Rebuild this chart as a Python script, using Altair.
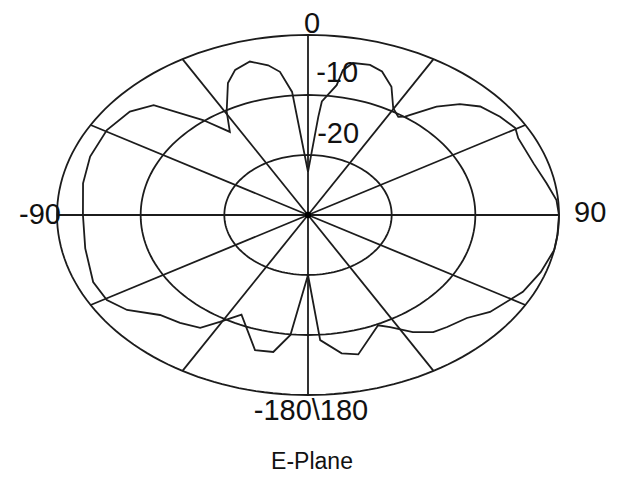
import altair as alt
import numpy as np
import pandas as pd

# ---- data (angle in degrees, gain in dB) ----
angles = [-180, -174, -169.7, -164.3, -154.4, -149.4, -145.6, -139.6, -133.3,
          -126.2, -120.5, -113.5, -101.8, -90, -78.9, -69.5, -59.5, -51,
          -45.2, -38.4, -34, -29.4, -23.5, -19.8, -15.2, -10.8, -8, -5.3,
          0, 4.3, 5, 9, 9.8, 12, 16.5, 20.3, 25, 29.8, 33.4, 35.3, 36.1,
          40.4, 44.5, 48.7, 54.5, 59.7, 63, 72.3, 79.5, 85.2, 90, 96.4,
          101.2, 108.9, 116.5, 126.6, 132.1, 138.3, 142.5, 147.3, 152.3,
          155.5, 165.5, 170.1, 176, 180]
gain_db = [-20.0, -9.9, -6.8, -6.6, -11.6, -9.3, -7.2, -6.4, -5.7,
           -3.2, -2.1, -2.0, -2.8, -3.1, -2.6, -2.2, -2.1, -2.6,
           -4.0, -9.8, -13.3, -10.2, -6.0, -4.3, -3.5, -4.6, -5.9, -9.4,
           -22.8, -13.6, -11.0, -8.1, -5.5, -4.1, -3.9, -4.5, -6.4, -9.5, -10.4, -9.9, -9.4,
           -6.3, -4.1, -2.6, -1.8, -1.3, -1.8, -1.7, -1.0, -0.2, 0.0, 0.0,
           0.0, -0.6, -1.3, -2.9, -4.4, -5.0, -5.4, -6.8, -8.9,
           -9.8, -6.0, -6.6, -9.1, -20.0]

ring_db = [0, -10, -20]
db_min = -30
spoke_angles = list(range(0, 360, 30))

label_text = ["0", "-10", "-20", "-90", "90", "-180\\180"]
chart_title = "E-Plane"

# layout positions of the labels (normalized plot units)
label_x = [0.016, 0.116, 0.12, -1.068, 1.124, 0.012]
label_y = [1.06, 0.789, 0.45, 0.0, 0.011, -1.089]

LINE = "#1c1c1c"
SW = 1.8

pattern = pd.DataFrame({"angle": angles, "db": gain_db, "k": range(len(angles))})

ring_rows = []
for d in ring_db:
    for a in np.arange(0, 361, 2):
        ring_rows.append({"ring": d, "angle": float(a), "db": d})
rings = pd.DataFrame(ring_rows)

spokes = pd.DataFrame({"angle": spoke_angles})
labels = pd.DataFrame({"text": label_text, "x": label_x, "y": label_y})
title_df = pd.DataFrame({"text": [chart_title], "x": [0.016], "y": [-1.372]})
centre = pd.DataFrame({"x": [0.0], "y": [0.0]})

xs = alt.Scale(domain=[-1, 1], nice=False, zero=False)
ys = alt.Scale(domain=[-1, 1], nice=False, zero=False)

r_expr = f"(datum.db - ({db_min})) / ({-db_min})"


def polar(chart):
    return chart.transform_calculate(
        r=r_expr
    ).transform_calculate(
        px="datum.r * sin(datum.angle * PI / 180)",
        py="datum.r * cos(datum.angle * PI / 180)",
    )


ring_layer = polar(alt.Chart(rings)).mark_line(
    color=LINE, strokeWidth=SW, clip=False
).encode(
    x=alt.X("px:Q", scale=xs, axis=None),
    y=alt.Y("py:Q", scale=ys, axis=None),
    detail="ring:N",
    order="angle:Q",
)

spoke_layer = alt.Chart(spokes).transform_calculate(
    x1="sin(datum.angle * PI / 180)",
    y1="cos(datum.angle * PI / 180)",
    x0="0",
    y0="0",
).mark_rule(color=LINE, strokeWidth=SW).encode(
    x=alt.X("x0:Q", scale=xs, axis=None),
    y=alt.Y("y0:Q", scale=ys, axis=None),
    x2="x1:Q",
    y2="y1:Q",
)

pattern_layer = polar(alt.Chart(pattern)).mark_line(
    color=LINE, strokeWidth=SW, clip=False
).encode(
    x=alt.X("px:Q", scale=xs, axis=None),
    y=alt.Y("py:Q", scale=ys, axis=None),
    order="k:Q",
)

centre_layer = alt.Chart(centre).mark_circle(
    color="#000000", size=40, opacity=1
).encode(
    x=alt.X("x:Q", scale=xs, axis=None),
    y=alt.Y("y:Q", scale=ys, axis=None),
)

label_layer = alt.Chart(labels).mark_text(
    font="Liberation Sans", fontSize=29, color="#111111",
    align="center", baseline="middle"
).encode(
    x=alt.X("x:Q", scale=xs, axis=None),
    y=alt.Y("y:Q", scale=ys, axis=None),
    text="text:N",
)

title_layer = alt.Chart(title_df).mark_text(
    font="Liberation Sans", fontSize=23, color="#111111",
    align="center", baseline="middle"
).encode(
    x=alt.X("x:Q", scale=xs, axis=None),
    y=alt.Y("y:Q", scale=ys, axis=None),
    text="text:N",
)

chart = alt.layer(
    ring_layer, spoke_layer, pattern_layer, centre_layer, label_layer, title_layer
).properties(
    width=502,
    height=360,
    autosize=alt.AutoSizeParams(type="none"),
    padding={"left": 49, "top": 27, "right": 55, "bottom": 85},
    background="white",
).configure_view(stroke=None)

chart.save("out.html", embed_options={"renderer": "svg", "actions": False})
